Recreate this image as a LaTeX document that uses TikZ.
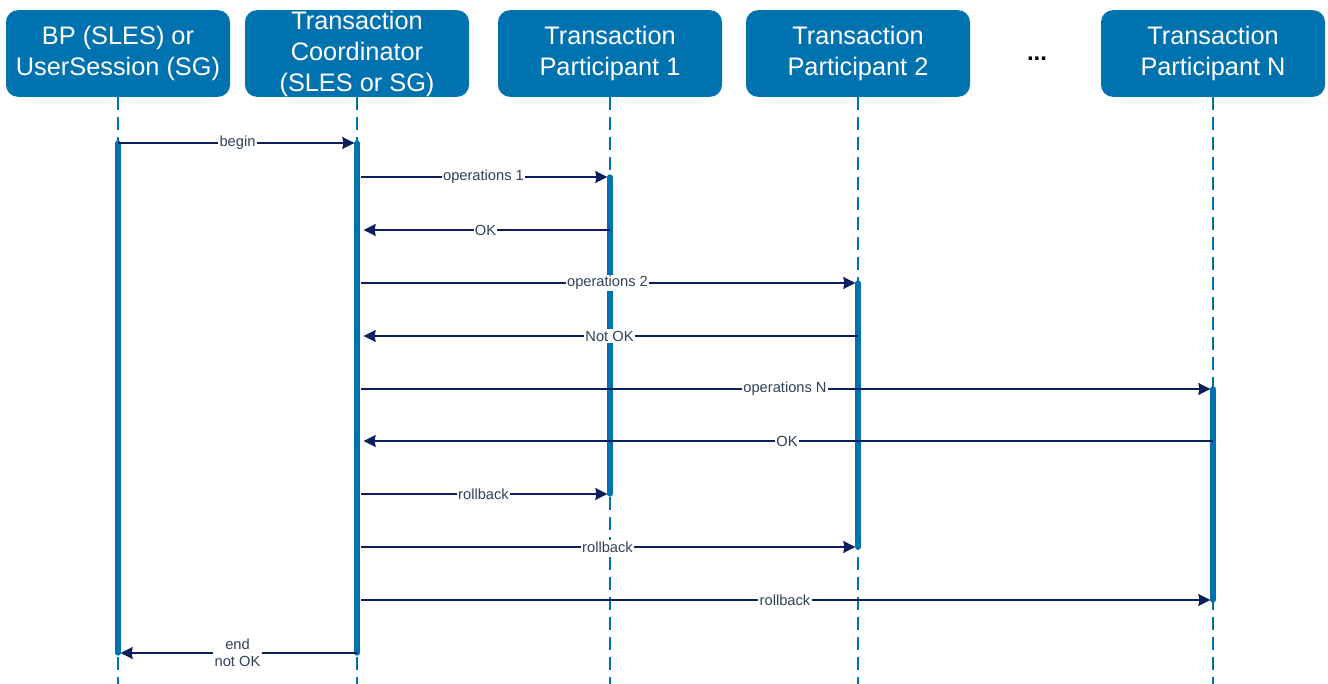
\documentclass[tikz,border=0pt]{standalone}
\usepackage{fontspec}
\setmainfont{Liberation Sans}
\usetikzlibrary{arrows.meta}
\definecolor{headblue}{RGB}{0,114,176}
\definecolor{msgnavy}{RGB}{12,30,92}
\definecolor{lblgray}{RGB}{48,66,88}

\begin{document}
\begin{tikzpicture}[x=0.75pt,y=-0.75pt,
    head/.style={fill=headblue,text=white,rounded corners=9pt,inner sep=0pt,
      minimum width=168pt,minimum height=65pt,align=center,
      font=\fontsize{19}{23.25}\selectfont},
    life/.style={headblue,line width=1pt,dash pattern=on 10pt off 5pt},
    bar/.style={headblue,line width=4pt,line cap=round},
    msg/.style={draw,msgnavy,line width=1.1pt,shorten >=2pt,
      -{Stealth[length=9pt,width=9pt,inset=0.8pt]}},
    lbl/.style={fill=white,text=lblgray,inner sep=1pt,align=center,
      font=\fontsize{11}{13}\selectfont}]
    \useasboundingbox (0,0) rectangle (1328,684);
    % participants
    \node[head] (bp)  at (118,53.5)  {BP (SLES) or\\UserSession (SG)};
    \node[head] (tc)  at (357,53.5)  {Transaction\\Coordinator\\(SLES or SG)};
    \node[head] (tp1) at (610,53.5)  {Transaction\\Participant 1};
    \node[head] (tp2) at (858,53.5)  {Transaction\\Participant 2};
    \node[head] (tpn) at (1213,53.5) {Transaction\\Participant N};
    \node[font=\fontsize{18}{20}\selectfont\bfseries,anchor=base] (dots) at (1037,61) {...};
    % message rows
    \coordinate (bot) at (0,684);
    \foreach \n/\y in {1/143,2/177,3/230,4/283,5/336,6/389,7/441,8/494,9/547,10/600,11/653}
      \coordinate (r\n) at (0,\y);
    % lifelines and activations
    \foreach \p in {bp,tc,tp1,tp2,tpn}
      \draw[life] (\p.south) -- (\p |- bot);
    \draw[bar] (bp |- r1) -- (bp |- r11);
    \draw[bar] (tc |- r1) -- (tc |- r11);
    \draw[bar] (tp1 |- r2) -- (tp1 |- r8);
    \draw[bar] (tp2 |- r4) -- (tp2 |- r9);
    \draw[bar] (tpn |- r6) -- (tpn |- r10);
    % messages
    \path[every edge/.style={msg},every node/.style={lbl}]
      (bp |- r1)  edge node {begin} (tc |- r1)
      (tc |- r2)  edge [shorten <=3pt] node {operations 1} (tp1 |- r2)
      (tp1 |- r3) edge node {OK} ([xshift=3pt]tc |- r3)
      (tc |- r4)  edge [shorten <=3pt] node {operations 2} (tp2 |- r4)
      (tp2 |- r5) edge node {Not OK} ([xshift=3pt]tc |- r5)
      (tc |- r6)  edge [shorten <=3pt] node {operations N} (tpn |- r6)
      (tpn |- r7) edge node {OK} ([xshift=3pt]tc |- r7)
      (tc |- r8)  edge [shorten <=3pt] node {rollback} (tp1 |- r8)
      (tc |- r9)  edge [shorten <=3pt] node {rollback} (tp2 |- r9)
      (tc |- r10) edge [shorten <=3pt] node {rollback} (tpn |- r10)
      (tc |- r11) edge node {end\\not OK} (bp |- r11);
\end{tikzpicture}
\end{document}
